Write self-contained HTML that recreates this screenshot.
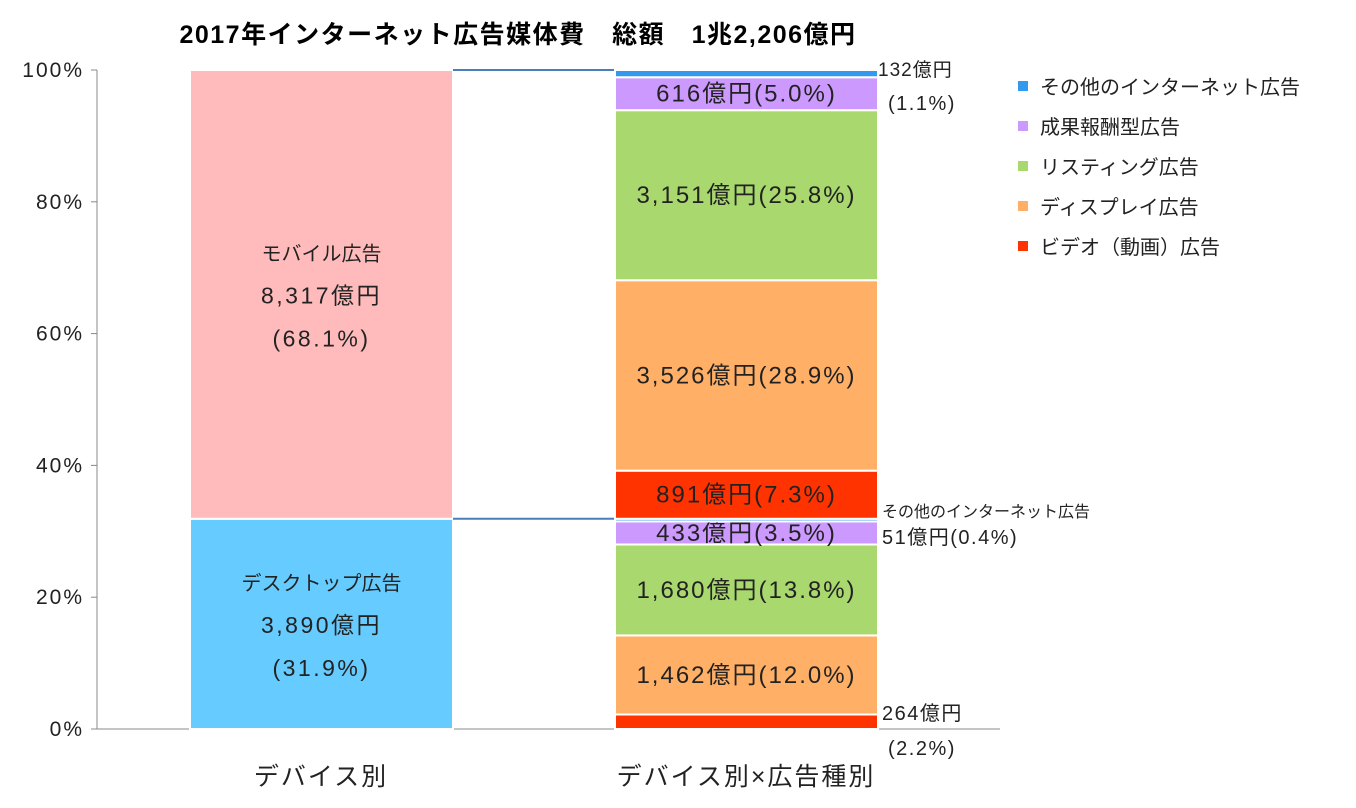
<!DOCTYPE html>
<html><head><meta charset="utf-8"><style>
body{margin:0;background:#fff;}
svg{display:block;font-family:"Liberation Sans","Noto Sans CJK JP",sans-serif;}
</style></head><body>
<svg id="c" width="1356" height="808">
<text x="518" y="43" font-size="25" font-weight="bold" letter-spacing="1.5" text-anchor="middle" fill="#000">2017年インターネット広告媒体費　総額　1兆2,206億円</text>
</svg>
<script>
const ticks=[0,20,40,60,80,100];
const deviceCats=['デスクトップ広告','モバイル広告'];
const deviceAmt=['3,890億円','8,317億円'];
const deviceVals=[31.9,68.1];
const typeNames=['ビデオ（動画）広告','ディスプレイ広告','リスティング広告','成果報酬型広告','その他のインターネット広告'];
const typeColors=['#FF3300','#FFB066','#A9D86E','#CC99FF','#3399EE'];
const desktopVals=[2.2,12.0,13.8,3.5,0.4];
const desktopAmt=['264億円','1,462億円','1,680億円','433億円','51億円'];
const mobileVals=[7.3,28.9,25.8,5.0,1.1];
const mobileAmt=['891億円','3,526億円','3,151億円','616億円','132億円'];
const NS='http://www.w3.org/2000/svg';
const svg=document.getElementById('c');
const y0=729,y100=70;
const y=v=>y0-(y0-y100)*v/100;
function el(t,a,txt){const e=document.createElementNS(NS,t);for(const k in a)e.setAttribute(k,a[k]);if(txt!==undefined)e.textContent=txt;svg.appendChild(e);return e;}
let ax=el('line',{x1:97,y1:y100,x2:97,y2:y0,stroke:'#888','stroke-width':1});


let bx=el('line',{x1:97,y1:y0,x2:1000,y2:y0,stroke:'#888','stroke-width':1});


ticks.forEach(t=>{
 let l=el('line',{x1:91,y1:y(t),x2:97,y2:y(t),stroke:'#888'});
 
 
 let tx=el('text',{x:84,y:y(t)+7,'font-size':21,'letter-spacing':2,'text-anchor':'end',fill:'#222'},t+'%');
 
 
});
const b1x=190,b1w=263;
const devColors=['#66CCFF','#FFBBBB'];
let cum=0;
deviceVals.forEach((v,i)=>{
 const top=y(cum+v),bot=y(cum);
 let r=el('rect',{x:b1x,y:top,width:b1w,height:bot-top,fill:devColors[i],stroke:'#fff','stroke-width':2});
 
 
 const mid=(top+bot)/2, cx=b1x+b1w/2;
 [deviceCats[i],deviceAmt[i],'('+v.toFixed(1)+'%)'].forEach((s,j)=>{
  let t=el('text',{x:cx,y:mid-34+j*43,'font-size':j==0?20:23,'letter-spacing':j==0?0:2.5,'text-anchor':'middle',fill:'#222'},s);
  
  
 });
 cum+=v;
});
[deviceVals[0],100].forEach(v=>{
 let l=el('line',{x1:453,y1:y(v),x2:615,y2:y(v),stroke:'#4A7EBB','stroke-width':2});
 
 
});
const b2x=615,b2w=263;
cum=0;
const segs=[];
desktopVals.forEach((v,i)=>segs.push([v,i,desktopAmt[i]]));
mobileVals.forEach((v,i)=>segs.push([v,i,mobileAmt[i]]));
segs.forEach(([v,i,amt],k)=>{
 const top=y(cum+v),bot=y(cum);
 let r=el('rect',{x:b2x,y:top,width:b2w,height:Math.max(0,bot-top),fill:typeColors[i],stroke:'#fff','stroke-width':2});
 
 
 if(v>=3){
  let t=el('text',{x:b2x+b2w/2,y:(top+bot)/2+8,'font-size':24,'letter-spacing':2,'text-anchor':'middle',fill:'#222'},amt+'('+v.toFixed(1)+'%)');
  
  
 }
 cum+=v;
});
const outs=[[878,76,19,1,'132億円'],[888,110,20,1.5,'(1.1%)'],[882,517,16,0,'その他のインターネット広告'],[882,544,20,1.5,'51億円(0.4%)'],[882,720,20,1.5,'264億円'],[888,755,20,1.5,'(2.2%)']];
outs.forEach(o=>{
 let t=el('text',{x:o[0],y:o[1],'font-size':o[2],'letter-spacing':o[3],fill:'#222'},o[4]);
 
 
});
[['デバイス別',321],['デバイス別×広告種別',746]].forEach(c=>{
 let t=el('text',{x:c[1],y:785,'font-size':25,'letter-spacing':2,'text-anchor':'middle',fill:'#222'},c[0]);
 
 
});
for(let i=4;i>=0;i--){
 const ly=86+(4-i)*40;
 let m=el('rect',{x:1018,y:ly-5,width:10,height:10,fill:typeColors[i]});
 
 
 let t=el('text',{x:1040,y:ly+8,'font-size':20,fill:'#222'},typeNames[i]);
 
 
}
</script>
</body></html>
